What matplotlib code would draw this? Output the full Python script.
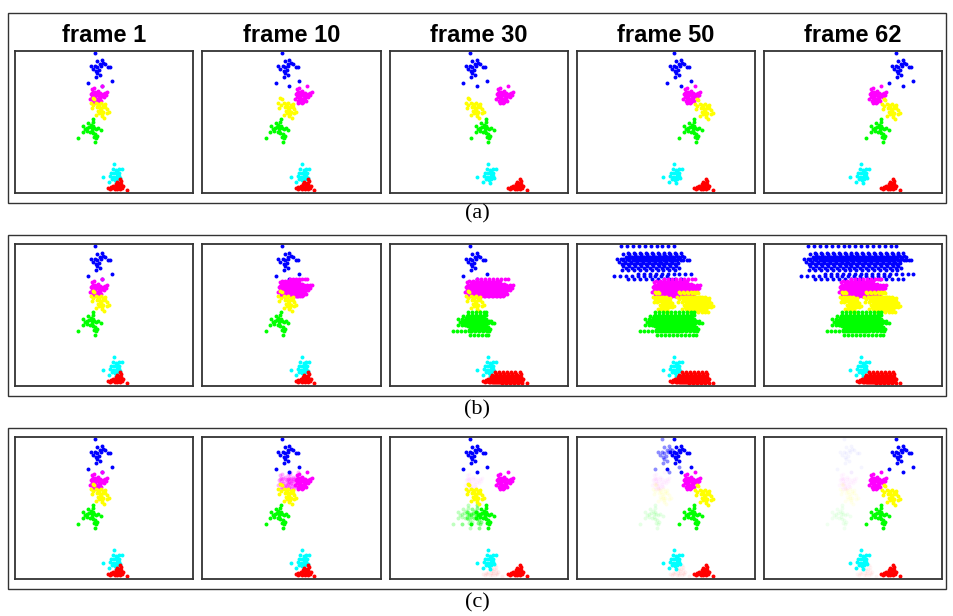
import matplotlib.pyplot as plt
from matplotlib.patches import Rectangle

frames = ["frame 1", "frame 10", "frame 30", "frame 50", "frame 62"]
row_labels = ["(a)", "(b)", "(c)"]

# cluster shapes at frame 1, in panel pixels (x to the right, y downward)
blue_pts = [(79.7, 1.7), (82.3, 9.7), (86.7, 9), (88.3, 11.7), (85, 13), (90, 13),
            (75.7, 15), (80, 15), (82.3, 16.3), (85.7, 15), (93.3, 16.3), (95, 16.3),
            (77.7, 18.3), (81, 19.7), (84.3, 19), (82.3, 22.3), (85, 24), (81, 26.3),
            (73.3, 32.3), (86.7, 35), (96.7, 29.7)]
magenta_pts = [(77, 38.3), (79.3, 37.3), (87, 35), (78, 40.7), (80.3, 40.7), (82.7, 39.7),
               (85.3, 41.7), (88, 43), (90.3, 41.7), (92, 40.7), (76, 43), (78.7, 44),
               (81.3, 44), (84, 45), (86.7, 45), (88.7, 45.7), (77, 46.3), (79.3, 47.3),
               (82, 48.3), (84.7, 49), (78, 49.7), (80.7, 50.7), (83.3, 50.7), (86, 49.7),
               (78.7, 52.3), (82, 51.7), (75.3, 48.3), (90.7, 44), (77, 42), (80, 46),
               (83, 42), (85, 47), (81, 49), (79, 42)]
yellow_pts = [(77.7, 47.3), (79, 48.3), (75.7, 52.3), (78.3, 54), (81, 51.7), (83.3, 53),
              (85.7, 52.3), (88.3, 54), (90.3, 53), (76.7, 57.3), (82.3, 56.3), (85, 57.3),
              (87.7, 56.3), (91.7, 58.3), (93.7, 60.7), (83.3, 59.7), (85.7, 60.7), (88.3, 60.7),
              (84.3, 62.3), (87, 63), (91.7, 62.3), (86.7, 65), (89.3, 67.3), (81, 64),
              (90, 55.7), (84.3, 55), (86.3, 59)]
green_pts = [(78.3, 68.3), (77.7, 70.7), (73.3, 72.3), (75.7, 74), (78.3, 75), (74.3, 76.3),
             (76.7, 77.3), (79, 77.3), (81, 78.3), (83.3, 77.3), (85.7, 79), (68.3, 75),
             (70, 78.3), (67.7, 80.7), (71.7, 79.7), (75, 80.7), (77.7, 82.3), (80, 83),
             (82.3, 85), (79, 85.7), (81, 87.3), (63.3, 87.3), (80, 90.7), (72.3, 77.3),
             (76.7, 79.7)]
cyan_pts = [(99.3, 113), (97.7, 118.3), (101, 119), (103.7, 117.7), (106.7, 117.7), (96, 121.7),
            (99, 122.3), (101.7, 123), (104.3, 121.7), (95, 125), (98.3, 125.7), (101, 126.3),
            (103.7, 125), (88.3, 125.7), (96.7, 128.3), (99.7, 129), (102.3, 128.3),
            (93.7, 130.7), (101, 131.7), (105, 127.3), (102.3, 120.3)]
red_pts = [(105, 128.3), (106.3, 129.7), (101.7, 130.7), (104, 131.7), (100.7, 133), (103, 134),
           (105.7, 133), (98.3, 135), (100.7, 135.7), (103, 136.3), (105.7, 135.7), (95.7, 136.3),
           (93, 137.3), (97.3, 137.3), (99.7, 138.3), (102.3, 138.3), (105, 138.3), (107.3, 137.3),
           (111.7, 139), (95, 138.3), (108.3, 135)]

# horizontal / vertical displacement of each cluster in frames 1, 10, 30, 50, 62
blue_dx = [0, 0, 0, 17, 52]
magenta_dx = [0, 17, 31, 31, 30]
yellow_dx = [0, 0, 0, 42, 42]
green_dx = [0, 0, 18, 39, 39]
cyan_dx = [0, 0, -1, -2, -2]
red_dx = [0, 0, 25, 24, 24]
yellow_dy = [0, 0, 0, 1, 1]

# row (b): shifts at which each cluster is smeared out
blue_trail = [[0], [0], [0],
              [-36, -30, -24, -18, -12, -6, 0, 5, 11, 17],
              [-36, -30, -24, -18, -12, -6, 0, 5, 11, 17, 23, 29, 35, 41, 47, 52]]
magenta_trail = [[0], [0, 3, 6, 9, 12, 15, 17], [0, 4, 8, 12, 16, 20, 24, 28, 31],
                 [0, 4, 8, 12, 16, 20, 24, 28, 31], [0, 4, 8, 12, 16, 20, 24, 27, 30]]
yellow_trail = [[0], [0], [0], [0, 3, 24, 28, 32, 36, 39, 42], [0, 3, 24, 28, 32, 36, 39, 42]]
green_trail = [[0], [0], [0, 4, 8, 12, 16, 18],
               [0, 4, 8, 12, 16, 20, 24, 28, 32, 36, 39], [0, 4, 8, 12, 16, 20, 24, 28, 32, 36, 39]]
cyan_trail = [[0], [0], [-1], [-2], [-2]]
red_trail = [[0], [0], [0, 4, 8, 12, 16, 20, 25], [0, 4, 8, 12, 16, 20, 24], [0, 4, 8, 12, 16, 20, 24]]

# row (c): faded leftovers (frame index, cluster, shift, alpha)
ghosts = [(1, "magenta", 0, 0.3), (1, "magenta", 8, 0.3),
          (2, "green", 0, 0.25), (2, "green", 9, 0.45), (2, "magenta", 0, 0.04), (2, "red", 0, 0.06),
          (3, "blue", 5, 0.45), (3, "magenta", 0, 0.04), (3, "yellow", 0, 0.08),
          (3, "green", 0, 0.1), (3, "red", 0, 0.05),
          (4, "blue", 0, 0.04), (4, "magenta", 0, 0.03), (4, "yellow", 0, 0.06),
          (4, "green", 0, 0.06), (4, "red", 0, 0.04)]

order = ["blue", "magenta", "yellow", "green", "cyan", "red"]
shapes = {"blue": blue_pts, "magenta": magenta_pts, "yellow": yellow_pts,
          "green": green_pts, "cyan": cyan_pts, "red": red_pts}
colors = {"blue": "#0000ff", "magenta": "#ff00ff", "yellow": "#ffff00",
          "green": "#00ff00", "cyan": "#00ffff", "red": "#ff0000"}
moves = {"blue": blue_dx, "magenta": magenta_dx, "yellow": yellow_dx,
         "green": green_dx, "cyan": cyan_dx, "red": red_dx}
trails = {"blue": blue_trail, "magenta": magenta_trail, "yellow": yellow_trail,
          "green": green_trail, "cyan": cyan_trail, "red": red_trail}

W, H = 954, 616
fig = plt.figure(figsize=(W / 100, H / 100), dpi=100)

lefts = [15, 202.5, 390, 577, 764]
tops = [51, 244, 437]
pw, ph = 178, 142
boxes = [(8, 13, 946, 203), (8, 235, 946, 396), (8, 428, 946, 589)]
label_y = [214, 410, 603]


def draw(ax, name, dx, dy=0, alpha=1.0):
    pts = shapes[name]
    xs = [p[0] + dx for p in pts]
    ys = [p[1] + dy for p in pts]
    ax.scatter(xs, ys, s=8, c=colors[name], alpha=alpha, linewidths=0, marker="o")


for r in range(3):
    x0, y0, x1, y1 = boxes[r]
    fig.add_artist(Rectangle((x0 / W, 1 - y1 / H), (x1 - x0) / W, (y1 - y0) / H,
                             transform=fig.transFigure, fill=False, ec="#333333", lw=1.0))
    fig.text(477 / W, 1 - label_y[r] / H, row_labels[r], ha="center", va="center",
             fontsize=16, family="Liberation Serif")
    for i in range(5):
        ax = fig.add_axes([lefts[i] / W, 1 - (tops[r] + ph) / H, pw / W, ph / H])
        ax.set_xlim(0, pw)
        ax.set_ylim(ph, 0)
        ax.set_xticks([])
        ax.set_yticks([])
        for sp in ax.spines.values():
            sp.set_color("#333333")
            sp.set_linewidth(1.3)
        if r == 0:
            fig.text((lefts[i] + pw / 2) / W, 1 - 36 / H, frames[i], ha="center", va="center",
                     fontsize=17, fontweight="bold", family="Liberation Sans")
        if r == 2:
            for g in ghosts:
                if g[0] == i:
                    draw(ax, g[1], g[2], 0, g[3])
        for name in order:
            dy = yellow_dy[i] if name == "yellow" else 0
            if r == 1:
                for s in trails[name][i]:
                    draw(ax, name, s, dy)
            else:
                draw(ax, name, moves[name][i], dy)

fig.savefig("out.png", dpi=100)
